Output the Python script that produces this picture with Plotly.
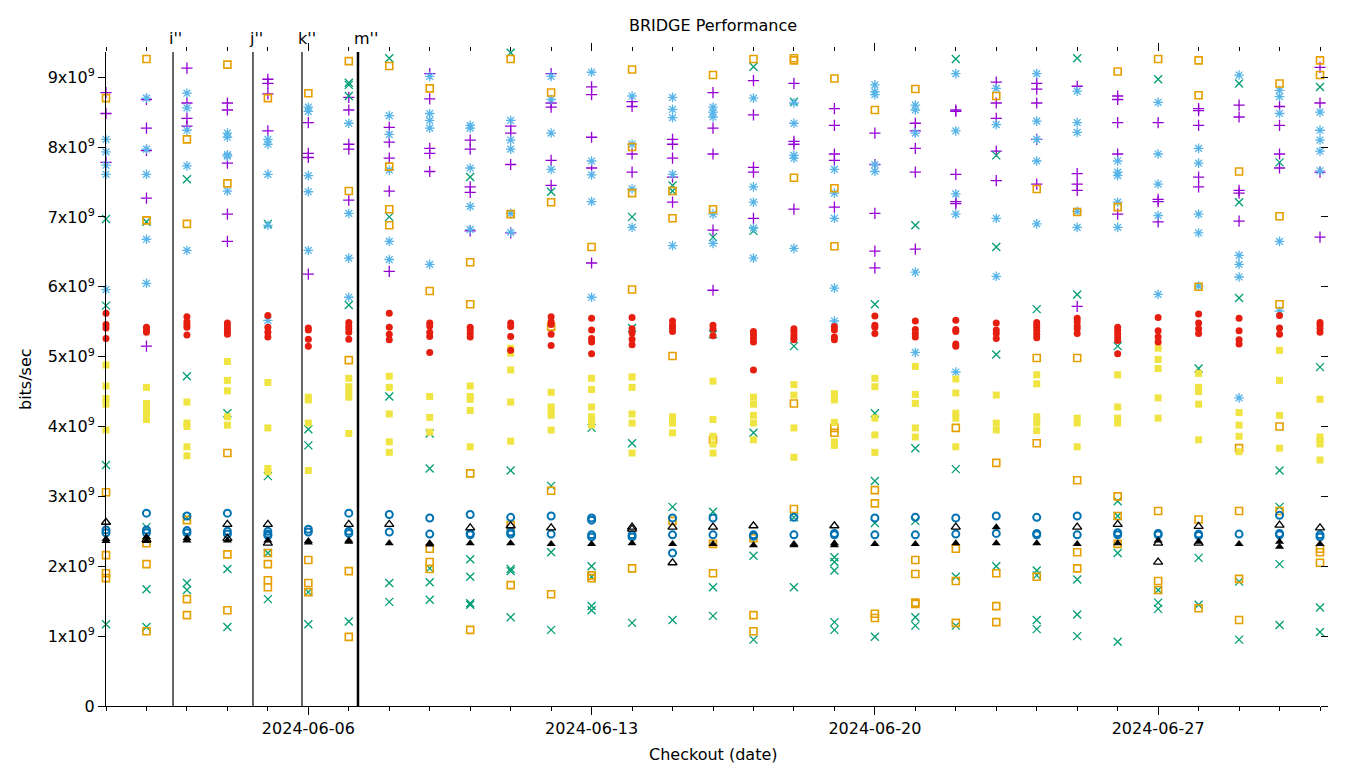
import datetime as dt
import plotly.graph_objects as go

# ---------------- data (values in units of 1e9 bits/sec), one list per day ----------------
start_day = dt.datetime(2024, 6, 1)
n_days = 31
days = [start_day + dt.timedelta(days=i) for i in range(n_days)]

purple_plus = [
    [8.78, 8.48, 7.78], [8.68, 8.27, 7.95, 7.27, 5.15], [9.13, 8.63, 8.41, 8.30],
    [8.63, 8.53, 7.77, 7.04, 6.65], [8.97, 8.91, 8.76, 8.23], [8.35, 7.91, 7.85, 6.18],
    [8.71, 8.53, 8.04, 7.97, 7.24], [8.28, 8.07, 7.84, 7.37, 6.22], [9.05, 8.69, 7.98, 7.91, 7.65],
    [8.10, 7.97, 7.43, 7.35, 6.80], [8.30, 8.20, 7.75, 6.77], [9.05, 8.63, 8.57, 7.81, 7.45],
    [8.86, 8.75, 8.14, 7.70, 6.34], [8.65, 8.58, 7.90, 7.64], [8.11, 8.04, 7.84, 7.57, 7.21],
    [8.78, 8.27, 7.90, 6.81, 5.95], [8.95, 8.46, 7.71, 7.64, 6.98], [8.91, 8.08, 8.04, 7.11],
    [8.55, 8.31, 7.90, 7.81, 7.14], [8.20, 7.75, 7.05, 6.51, 6.27], [8.34, 8.23, 7.98, 7.64, 6.54],
    [8.53, 8.51, 7.61, 7.22, 7.19], [8.93, 8.63, 8.41, 7.94, 7.52], [8.91, 8.83, 8.63, 8.11, 7.47],
    [8.87, 7.62, 7.47, 7.38, 5.72], [8.73, 8.68, 8.35, 7.90, 7.04], [8.35, 7.25, 7.22, 6.93],
    [8.55, 8.52, 8.31, 7.57, 7.43], [8.60, 8.43, 7.38, 7.34, 6.94], [8.58, 8.31, 7.90, 7.70],
    [9.14, 8.63, 7.64, 6.71],
]

green_x = [
    [6.97, 5.73, 3.45, 1.17], [6.93, 2.56, 1.67, 1.13], [7.54, 4.72, 2.70, 1.76, 1.66],
    [4.19, 1.96, 1.13], [6.90, 3.29, 2.19, 1.53], [3.96, 3.73, 1.63, 1.17],
    [8.92, 8.89, 8.73, 5.74, 1.21], [9.27, 7.00, 4.43, 1.76, 1.49], [3.90, 3.40, 1.97, 1.77, 1.52],
    [7.57, 2.10, 1.85, 1.47, 1.45], [9.35, 3.37, 1.96, 1.93, 1.27], [7.36, 3.15, 2.20, 1.09],
    [3.98, 2.00, 1.85, 1.43, 1.37], [7.00, 5.41, 3.76, 1.19], [7.45, 7.37, 2.85, 1.23],
    [6.71, 5.32, 2.78, 1.70, 1.29], [9.15, 6.80, 3.91, 2.15, 0.95], [8.65, 5.15, 2.70, 1.70],
    [2.13, 2.06, 1.94, 1.20, 1.09], [5.75, 4.19, 3.22, 2.62, 0.99], [6.88, 3.69, 2.65, 1.27, 1.15],
    [9.26, 3.39, 1.85, 1.15], [7.88, 6.57, 5.03, 2.00], [5.68, 1.94, 1.87, 1.23, 1.10],
    [9.27, 5.89, 1.81, 1.31, 1.00], [5.15, 2.93, 2.72, 2.19, 0.92], [8.97, 1.66, 1.48, 1.39],
    [4.83, 2.12, 1.45], [8.91, 7.21, 5.84, 1.78, 0.95], [7.78, 3.37, 2.85, 2.03, 1.16],
    [8.86, 4.85, 1.41, 1.06],
]

blue_star = [
    [8.11, 7.93, 7.74, 7.61, 5.96], [8.70, 7.97, 7.61, 6.68, 6.05], [8.77, 8.56, 8.24, 7.73, 6.52],
    [8.20, 8.14, 7.89, 7.87, 7.37], [8.11, 8.04, 7.61, 6.88, 5.52], [8.57, 8.51, 7.59, 7.36, 6.52],
    [8.34, 7.05, 6.41, 5.85], [8.45, 8.18, 7.67, 6.65, 6.39], [9.01, 8.48, 8.38, 8.27, 6.32],
    [8.31, 8.27, 7.70, 7.15, 6.82], [8.38, 8.10, 7.97, 7.05, 6.78], [9.01, 8.68, 8.20, 7.68],
    [9.07, 7.80, 7.60, 7.22, 5.85], [8.73, 8.04, 7.40, 6.85], [8.71, 8.54, 8.42, 7.61, 6.59],
    [8.57, 8.50, 8.43, 7.04, 6.62], [8.70, 7.43, 7.21, 6.84, 6.41], [8.63, 8.34, 7.88, 7.84, 6.55],
    [7.68, 7.34, 6.98, 5.98, 5.51], [8.89, 8.79, 8.75, 7.75, 7.65], [8.60, 8.53, 8.20, 6.21, 5.06],
    [9.05, 8.23, 7.33, 7.04, 4.78], [8.84, 8.32, 6.98, 6.15], [9.05, 8.37, 8.11, 7.80, 6.90],
    [8.80, 8.35, 8.21, 7.08, 6.85], [7.80, 7.64, 7.59, 7.21, 6.85], [8.64, 7.90, 7.47, 7.02, 5.89],
    [7.98, 7.77, 7.04, 6.77, 6.01], [9.03, 6.45, 6.32, 6.14, 4.41], [8.81, 8.72, 8.48, 6.65, 5.65],
    [8.50, 8.24, 8.10, 7.94, 7.66],
]

orange_square = [
    [8.70, 3.06, 2.16, 1.90, 1.83], [9.26, 6.95, 2.33, 2.03, 1.07], [8.11, 6.90, 2.66, 1.53, 1.30],
    [9.18, 7.48, 3.62, 2.17, 1.37], [8.70, 2.19, 2.03, 1.80, 1.70], [8.77, 2.09, 1.76, 1.63],
    [9.23, 7.37, 4.95, 1.93, 0.99], [9.16, 7.72, 7.11, 6.88], [8.84, 5.94, 2.25, 2.06, 1.96],
    [6.35, 5.75, 3.33, 1.09], [9.26, 7.04, 2.59, 1.73], [8.78, 7.21, 5.43, 3.08, 1.60],
    [6.57, 1.87, 1.83], [9.11, 8.00, 7.34, 5.96, 1.97], [7.37, 6.98, 5.01, 2.65],
    [9.03, 7.11, 3.81, 2.32, 1.90], [9.26, 2.40, 1.30, 1.07], [9.27, 9.24, 7.56, 4.33, 2.82],
    [8.98, 7.41, 6.58, 3.98, 3.91], [8.53, 3.09, 2.90, 1.32, 1.26], [8.83, 2.09, 1.89, 1.48, 1.46],
    [3.98, 2.25, 1.79, 1.19], [8.73, 3.48, 1.90, 1.43, 1.20], [7.40, 4.98, 3.76, 1.85],
    [7.07, 4.98, 3.23, 2.20, 1.97], [9.08, 7.14, 3.00, 2.72, 2.32], [9.26, 2.79, 1.79, 1.66],
    [9.24, 8.74, 6.00, 2.67, 1.40], [7.65, 3.69, 2.79, 1.82, 1.23], [8.91, 7.01, 5.75, 4.00, 2.79],
    [9.24, 9.03, 2.25, 2.20, 2.05],
]

yellow_square = [
    [4.88, 4.58, 4.40, 4.32, 3.95], [4.56, 4.33, 4.25, 4.16, 4.10], [4.35, 4.05, 4.00, 3.71, 3.58],
    [4.93, 4.66, 4.51, 4.14, 4.02], [4.63, 3.98, 3.40, 3.35], [4.42, 4.38, 4.05, 3.37],
    [4.69, 4.57, 4.50, 4.42, 3.90], [4.72, 4.56, 4.18, 3.78, 3.63], [4.43, 4.13, 3.92],
    [4.58, 4.43, 4.39, 4.23, 3.71], [5.12, 5.05, 4.81, 4.35, 3.79], [4.49, 4.28, 4.24, 4.16, 3.95],
    [4.69, 4.53, 4.28, 4.14, 4.10, 4.02], [4.71, 4.56, 4.18, 4.05, 3.62], [4.14, 4.05, 3.91],
    [4.65, 4.10, 3.86, 3.75, 3.62], [4.42, 4.32, 4.16, 4.05, 3.81], [4.60, 4.45, 3.98, 3.56],
    [4.47, 4.38, 4.06, 3.78, 3.73], [4.69, 4.57, 4.12, 3.88, 3.63], [4.86, 4.46, 4.33, 3.98, 3.85],
    [4.68, 4.48, 4.19, 4.12, 3.71], [4.45, 4.05, 3.95], [4.74, 4.61, 4.14, 4.05, 3.94],
    [4.12, 4.05, 3.71], [4.74, 4.28, 4.12, 4.05], [5.12, 4.96, 4.83, 4.41, 4.12],
    [4.76, 4.56, 4.50, 4.32, 3.81], [4.20, 4.02, 3.86, 3.64], [5.09, 4.66, 4.16, 3.69],
    [4.39, 3.85, 3.80, 3.75, 3.52],
]

blue_circle = [
    [2.52, 2.48], [2.76, 2.52, 2.48], [2.72, 2.51, 2.48], [2.76, 2.50, 2.46], [2.50, 2.46, 2.44],
    [2.53, 2.49], [2.76, 2.50, 2.47], [2.74, 2.49], [2.69, 2.46], [2.74, 2.47, 2.45],
    [2.70, 2.49, 2.46], [2.72, 2.46], [2.69, 2.66, 2.45, 2.42], [2.45, 2.42], [2.69, 2.45, 2.19],
    [2.69, 2.45], [2.45, 2.43], [2.70, 2.45], [2.47, 2.45], [2.69, 2.45], [2.70, 2.45],
    [2.69, 2.46], [2.72, 2.47], [2.70, 2.47, 2.45], [2.72, 2.45], [2.48, 2.45], [2.47, 2.45],
    [2.46, 2.44], [2.46], [2.73, 2.47, 2.45], [2.45, 2.42],
]

red_circle = [
    [5.62, 5.46, 5.41, 5.26], [5.42, 5.38, 5.35], [5.57, 5.50, 5.46, 5.42, 5.31],
    [5.48, 5.44, 5.40, 5.36, 5.32], [5.59, 5.42, 5.35, 5.28], [5.41, 5.38, 5.25, 5.15],
    [5.49, 5.44, 5.40, 5.35, 5.25], [5.62, 5.42, 5.32, 5.24], [5.48, 5.44, 5.35, 5.29, 5.06],
    [5.42, 5.38, 5.33, 5.28], [5.48, 5.43, 5.29, 5.09], [5.57, 5.50, 5.46, 5.32, 5.16],
    [5.55, 5.38, 5.26, 5.21, 5.04], [5.56, 5.40, 5.34, 5.25, 5.17], [5.51, 5.45, 5.41, 5.36],
    [5.45, 5.40, 5.30], [5.36, 5.31, 5.26, 5.21, 4.81], [5.40, 5.36, 5.31, 5.27, 5.24],
    [5.43, 5.38, 5.28, 5.24], [5.58, 5.45, 5.42, 5.33], [5.51, 5.39, 5.33, 5.28],
    [5.52, 5.39, 5.36, 5.18, 5.15], [5.48, 5.38, 5.33, 5.26], [5.49, 5.45, 5.41, 5.37, 5.32, 5.27],
    [5.55, 5.50, 5.44, 5.40, 5.33], [5.42, 5.38, 5.33, 5.28, 5.23, 5.04], [5.56, 5.37, 5.28, 5.21],
    [5.61, 5.48, 5.40, 5.33], [5.55, 5.37, 5.24, 5.18], [5.59, 5.41, 5.32], [5.49, 5.45, 5.40, 5.35],
]

black_triangle_open = [
    [2.63], [2.38], [], [2.60, 2.40], [2.60, 2.33], [], [2.60], [2.60], [], [2.55], [2.58],
    [2.55], [], [2.56, 2.53], [2.56, 2.05], [2.56], [2.58], [], [2.58], [], [], [2.56], [],
    [], [2.56], [2.60], [2.33, 2.06], [2.57, 2.33], [], [2.59], [2.55],
]

black_triangle_filled = [
    [2.39, 2.36], [2.42, 2.36], [2.40, 2.37], [2.37], [2.37], [2.36, 2.34], [2.37, 2.35],
    [2.33], [2.33, 2.31], [2.33], [2.33], [2.32], [2.32], [2.33], [2.32], [2.32], [2.30],
    [2.32, 2.30], [2.33, 2.30], [2.32], [2.32], [2.33], [2.56, 2.33], [2.33], [2.32], [2.33],
    [2.37], [2.35], [2.32], [2.35, 2.28], [2.32],
]

event_labels = ["i''", "j''", "k''", "m''"]
event_times = [dt.datetime(2024, 6, 2, 15, 45), dt.datetime(2024, 6, 4, 15, 10),
               dt.datetime(2024, 6, 5, 20, 14), dt.datetime(2024, 6, 7, 5, 27)]
event_widths = [1.2, 1.2, 1.2, 2.5]

y_tick_values = [0, 1, 2, 3, 4, 5, 6, 7, 8, 9]
y_tick_text = ["0"] + [f"{v}x10<sup>9</sup>" for v in y_tick_values[1:]]
x_range = [dt.datetime(2024, 6, 1), dt.datetime(2024, 7, 1)]
y_max = 9.36
SCALE = 1e9

# ---------------- figure ----------------
FONT = "DejaVu Sans"
fig = go.Figure()

series = [
    (purple_plus, "cross-thin-open", "#9400d3", 8, 1.3),
    (green_x, "x-thin-open", "#009e73", 8, 1.3),
    (blue_star, "asterisk-open", "#56b4e9", 8, 1.3),
    (orange_square, "square-open", "#e69f00", 7, 1.6),
    (yellow_square, "square", "#f0e442", 7, 0),
    (blue_circle, "circle-open", "#0072b2", 7, 2.0),
    (red_circle, "circle", "#e51e10", 7, 0),
    (black_triangle_open, "triangle-up-open", "#000000", 8, 1.3),
    (black_triangle_filled, "triangle-up", "#000000", 8, 0),
]

for data, sym, color, size, lw in series:
    xs, ys = [], []
    for d, vals in zip(days, data):
        for v in vals:
            xs.append(d)
            ys.append(v * SCALE)
    marker = dict(symbol=sym, size=size, color=color)
    if lw:
        marker["line"] = dict(width=lw, color=color)
    else:
        marker["line"] = dict(width=0)
    fig.add_trace(go.Scatter(x=xs, y=ys, mode="markers", marker=marker,
                             showlegend=False, cliponaxis=False, hoverinfo="x+y"))

# empty trace to host mirror axes (top/right ticks)
fig.add_trace(go.Scatter(x=[], y=[], xaxis="x2", yaxis="y2", showlegend=False))

for t, w in zip(event_times, event_widths):
    fig.add_shape(type="line", xref="x", yref="paper", x0=t, x1=t, y0=0, y1=1,
                  line=dict(color="black", width=w), layer="above")
for t, lab in zip(event_times, event_labels):
    fig.add_annotation(x=t, y=1, xref="x", yref="paper", text=lab, showarrow=False,
                       xanchor="left", yanchor="bottom", xshift=-6, yshift=2,
                       font=dict(family=FONT, size=16, color="black"))

tick_font = dict(family=FONT, size=16, color="black")
day_ms = 86400000

# the page body adds an 8px offset, so the figure is 8px smaller and margins shifted
W, H = 1352, 760
fig.update_layout(
    width=W, height=H,
    margin=dict(l=98, r=W - 98 - 1214, t=44, b=H - 44 - 654),
    paper_bgcolor="white", plot_bgcolor="white",
    title=dict(text="BRIDGE Performance", x=0.5, xref="paper", y=1 - 17 / H,
               yref="container", xanchor="center", yanchor="middle",
               font=dict(family=FONT, size=16, color="black")),
    xaxis=dict(type="date", range=x_range, showgrid=False, zeroline=False,
               showline=True, linecolor="black", linewidth=1,
               ticks="outside", ticklen=8, tickcolor="black", tickwidth=1,
               tick0="2024-06-06", dtick=7 * day_ms, tickformat="%Y-%m-%d",
               tickfont=tick_font,
               minor=dict(dtick=day_ms, tick0="2024-06-01", ticks="outside",
                          ticklen=4, tickcolor="black", tickwidth=1, showgrid=False)),
    yaxis=dict(range=[0, y_max * SCALE], showgrid=False, zeroline=False,
               showline=True, linecolor="black", linewidth=1,
               ticks="outside", ticklen=7, tickcolor="black", tickwidth=1,
               tickvals=[v * SCALE for v in y_tick_values], ticktext=y_tick_text,
               tickfont=tick_font),
    xaxis2=dict(type="date", overlaying="x", side="top", range=x_range,
                showgrid=False, zeroline=False, showline=False, showticklabels=False,
                ticks="outside", ticklen=8, tickcolor="black", tickwidth=1,
                tick0="2024-06-06", dtick=7 * day_ms,
                minor=dict(dtick=day_ms, tick0="2024-06-01", ticks="outside",
                           ticklen=4, tickcolor="black", tickwidth=1, showgrid=False)),
    yaxis2=dict(overlaying="y", side="right", range=[0, y_max * SCALE],
                showgrid=False, zeroline=False, showline=False, showticklabels=False,
                ticks="outside", ticklen=7, tickcolor="black", tickwidth=1,
                tickvals=[v * SCALE for v in y_tick_values]),
)

fig.add_annotation(text="Checkout (date)", xref="paper", yref="paper", x=0.5,
                   y=(706 - 754) / 654, xanchor="center", yanchor="middle",
                   showarrow=False, font=dict(family=FONT, size=16, color="black"))
fig.add_annotation(text="bits/sec", xref="paper", yref="paper", x=(25 - 106) / 1214,
                   y=0.5, xanchor="center", yanchor="middle", textangle=-90,
                   showarrow=False, font=dict(family=FONT, size=16, color="black"))

fig.write_html("out.html")
